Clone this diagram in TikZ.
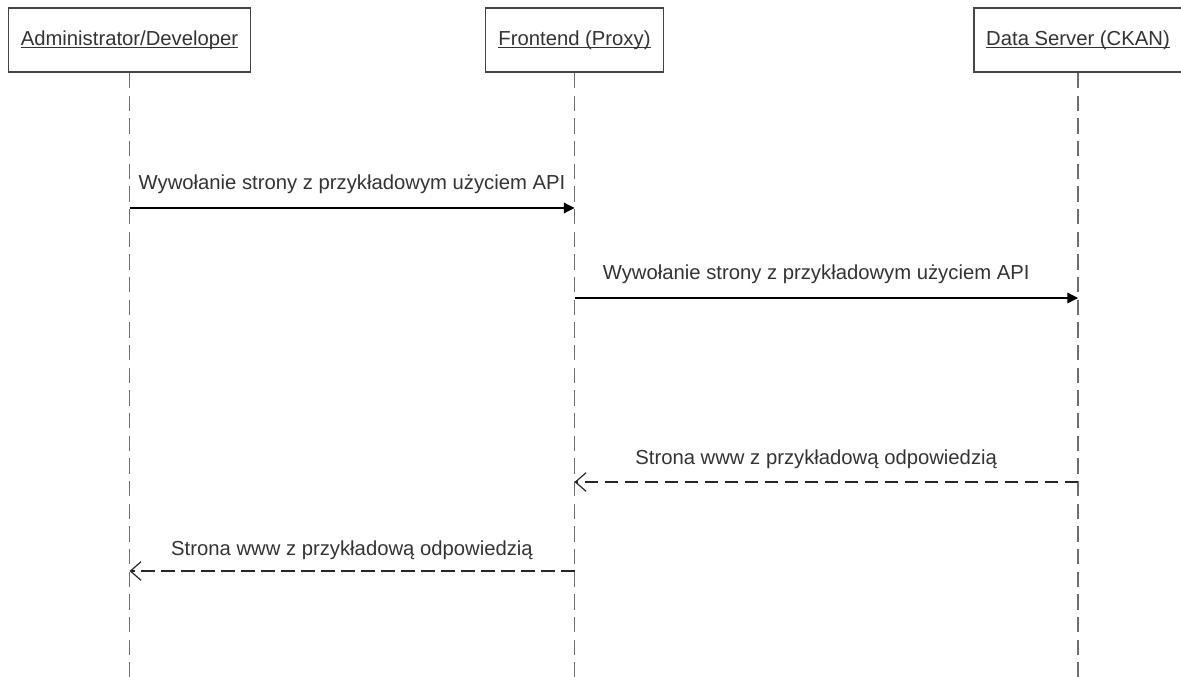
\documentclass[tikz,border=0pt]{standalone}
\usepackage{fontspec}
\setmainfont{Liberation Sans}
\usetikzlibrary{arrows.meta}
\definecolor{ink}{HTML}{333333}
\definecolor{frame}{HTML}{454545}
\definecolor{life}{HTML}{6E6E6E}
% underlined participant name, rule placed just under the baseline
\newcommand\ulname[1]{\setbox0\hbox{#1}\rlap{\rule[-2.2pt]{\wd0}{0.8pt}}\box0}
\tikzset{
  participant/.style={draw=frame, line width=1.4pt, fill=white, minimum height=48pt,
    inner sep=0pt, text=ink, font=\fontsize{15.2}{18}\selectfont},
  lifeline/.style={draw=life, line width=1.3pt, dash pattern=on 11.5pt off 5.5pt},
  call/.style={draw=black, line width=0.9pt, -{Triangle[length=8pt,width=8pt]}},
  reply/.style={draw=black!85, line width=0.9pt, dash pattern=on 10pt off 5pt,
    -{Straight Barb[length=8pt,width=14pt,line width=0.9pt]}},
  lbl/.style={text=ink, font=\fontsize{15.2}{18}\selectfont, anchor=base, inner sep=0pt, yshift=13.5pt}
}
\begin{document}
\begin{tikzpicture}[x=0.75pt,y=-0.75pt]
\useasboundingbox (0,0) rectangle (1181,677);

% participants
\node[participant, minimum width=181.5pt] (admin) at (129.5,40) {\ulname{Administrator/Developer}};
\node[participant, minimum width=133.5pt] (front) at (574.5,40) {\ulname{Frontend (Proxy)}};
\node[participant, minimum width=156pt] (data) at (1078,40) {\ulname{Data Server (CKAN)}};

% lifeline ends
\coordinate (adminEnd) at (admin.south |- 0,677);
\coordinate (frontEnd) at (front.south |- 0,677);
\coordinate (dataEnd) at (data.south |- 0,677);
\draw[lifeline] (admin.south) -- (adminEnd);
\draw[lifeline] (front.south) -- (frontEnd);
\draw[lifeline] (data.south) -- (dataEnd);

% message points on the lifelines
\coordinate (m1a) at (admin.south |- 0,208);
\coordinate (m1b) at (front.south |- 0,208);
\coordinate (m2a) at (front.south |- 0,298);
\coordinate (m2b) at (data.south |- 0,298);
\coordinate (r1a) at (data.south |- 0,482);
\coordinate (r1b) at (front.south |- 0,482);
\coordinate (r2a) at (front.south |- 0,571);
\coordinate (r2b) at (admin.south |- 0,571);

% messages
\draw[call] (m1a) -- node[lbl, pos=0.5] {Wywołanie strony z przykładowym użyciem API} (m1b);
\draw[call] (m2a) -- node[lbl, pos=0.48] {Wywołanie strony z przykładowym użyciem API} (m2b);
\draw[reply] (r1a) -- node[lbl, pos=0.52] {Strona www z przykładową odpowiedzią} (r1b);
\draw[reply] (r2a) -- node[lbl, pos=0.5, yshift=-1.5pt] {Strona www z przykładową odpowiedzią} (r2b);
\end{tikzpicture}
\end{document}
